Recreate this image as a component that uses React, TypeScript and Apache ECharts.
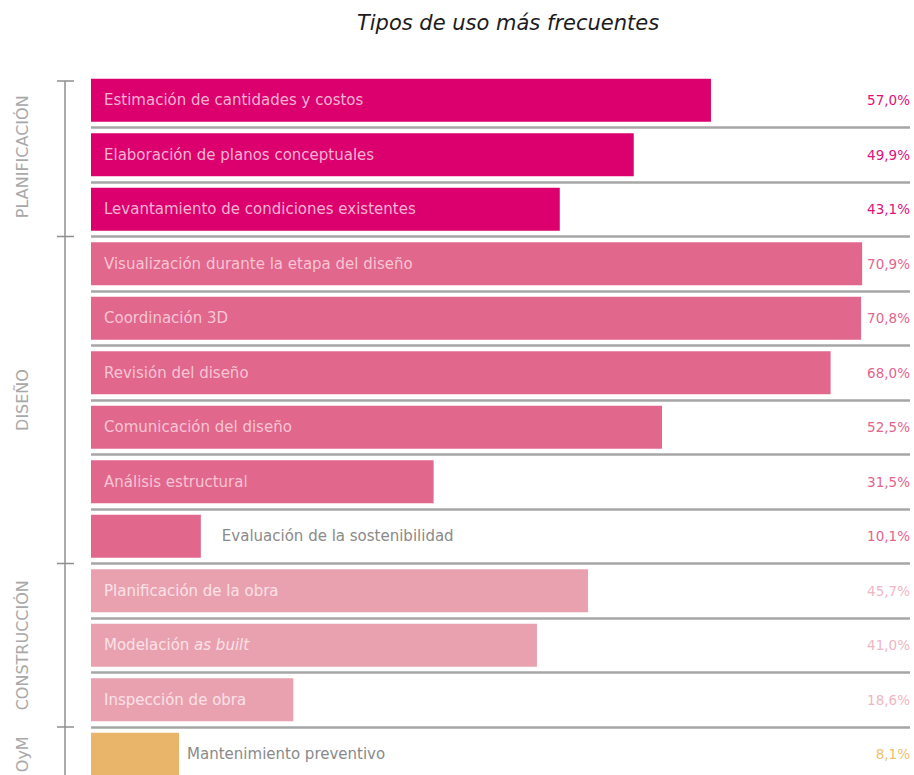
import React, { useEffect, useRef } from "react";
import * as echarts from "echarts";

const categories: string[] = [
  "Estimación de cantidades y costos",
  "Elaboración de planos conceptuales",
  "Levantamiento de condiciones existentes",
  "Visualización durante la etapa del diseño",
  "Coordinación 3D",
  "Revisión del diseño",
  "Comunicación del diseño",
  "Análisis estructural",
  "Evaluación de la sostenibilidad",
  "Planificación de la obra",
  "Modelación as built",
  "Inspección de obra",
  "Mantenimiento preventivo",
];
const values: number[] = [57.0, 49.9, 43.1, 70.9, 70.8, 68.0, 52.5, 31.5, 10.1, 45.7, 41.0, 18.6, 8.1];
const groupOf: number[] = [0, 0, 0, 1, 1, 1, 1, 1, 1, 2, 2, 2, 3];
const groupNames: string[] = ["PLANIFICACIÓN", "DISEÑO", "CONSTRUCCIÓN", "OyM"];
const outsideLabel: boolean[] = [false, false, false, false, false, false, false, false, true, false, false, false, true];

const barColors = ["#dc006e", "#e2678c", "#e9a1b0", "#e8b56a"];
const innerText = ["#f6b3d2", "#f7c5d5", "#fbe2e8", "#fff"];
const valueColors = ["#e0107a", "#e4648d", "#f0b6c3", "#eebf6c"];

const FONT = "'DejaVu Sans', 'Open Sans', sans-serif";
const GRID_TOP = 73;
const ROW = 54.5;
const GRID_LEFT = 91;
const LABEL_SIZE = 15;

export default function App() {
  const ref = useRef<HTMLDivElement>(null);
  useEffect(() => {
    document.body.style.margin = "0";
    const chart = echarts.init(ref.current!, null, { renderer: "svg" });

    const data = values.map((v, i) => {
      const g = groupOf[i];
      const out = outsideLabel[i];
      return {
        value: v,
        itemStyle: { color: barColors[g] },
        label: {
          show: true,
          position: out ? "right" : "insideLeft",
          distance: out ? (i === 12 ? 8 : 21) : 13,
          color: out ? "#8a8a8a" : innerText[g],
        },
      };
    });

    const ranges: { g: number; start: number; end: number }[] = [];
    groupOf.forEach((g, i) => {
      const last = ranges[ranges.length - 1];
      if (last && last.g === g) last.end = i;
      else ranges.push({ g, start: i, end: i });
    });

    const bracketColor = "#8f8f8f";
    const graphics: any[] = [
      {
        type: "line",
        shape: { x1: 65, y1: 81, x2: 65, y2: 800 },
        style: { stroke: bracketColor, lineWidth: 1.5 },
      },
    ];
    ranges.forEach((r, k) => {
      const yTick = k === 0 ? 81 : GRID_TOP + ROW * r.start;
      graphics.push({
        type: "line",
        shape: { x1: 57, y1: yTick, x2: 74, y2: yTick },
        style: { stroke: bracketColor, lineWidth: 1.5 },
      });
      const yc = GRID_TOP + ROW * ((r.start + r.end + 1) / 2) + (k === 0 ? 2 : 0);
      graphics.push({
        type: "text",
        x: 22,
        y: yc,
        rotation: Math.PI / 2,
        style: {
          text: groupNames[r.g],
          fill: "#a8a8a8",
          font: `16px ${FONT}`,
          align: "center",
          verticalAlign: "middle",
        },
      });
    });

    chart.setOption({
      animation: false,
      title: {
        text: "Tipos de uso más frecuentes",
        left: 503,
        top: 7,
        textAlign: "center",
        textStyle: {
          fontFamily: FONT,
          fontStyle: "italic",
          fontWeight: "normal",
          fontSize: 21,
          color: "#1c1c1c",
        },
      },
      grid: { left: GRID_LEFT, right: 4, top: GRID_TOP, height: ROW * categories.length },
      xAxis: {
        type: "value",
        min: 0,
        max: 75.3,
        show: false,
      },
      yAxis: [
        {
          type: "category",
          data: categories,
          inverse: true,
          axisLine: { show: false },
          axisTick: { show: false },
          axisLabel: { show: false },
          splitLine: {
            show: true,
            interval: (index: number) => index !== 0,
            lineStyle: { color: "#a6a6a6", width: 2.5 },
          },
        },
        {
          type: "category",
          data: values.map((v) => v.toFixed(1).replace(".", ",") + "%"),
          inverse: true,
          position: "right",
          axisLine: { show: false },
          axisTick: { show: false },
          splitLine: { show: false },
          axisLabel: {
            inside: true,
            margin: 0,
            fontFamily: FONT,
            fontSize: 13.5,
            color: (_v: any, idx: number) => valueColors[groupOf[idx]],
          },
        },
      ],
      series: [
        {
          type: "bar",
          yAxisIndex: 0,
          data,
          barWidth: 43,
          label: {
            show: true,
            fontFamily: FONT,
            fontSize: LABEL_SIZE,
            formatter: (p: any) =>
              p.name === "Modelación as built" ? "Modelación {it|as built}" : p.name,
            rich: {
              it: { fontStyle: "italic", fontFamily: FONT, fontSize: LABEL_SIZE, color: innerText[2] },
            },
          },
        },
      ],
      graphic: graphics,
    });
    return () => chart.dispose();
  }, []);
  return (
    <div style={{ width: 914, height: 775, overflow: "hidden" }}>
      <div ref={ref} style={{ width: 914, height: 800 }} />
    </div>
  );
}
